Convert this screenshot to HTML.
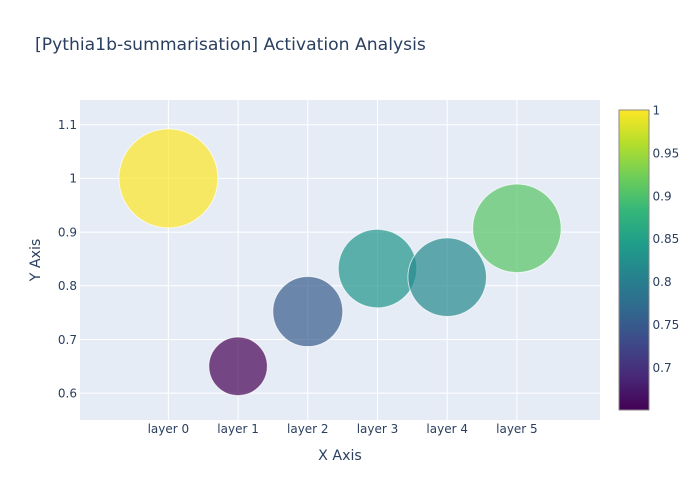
<!DOCTYPE html>
<html>
<head>
<meta charset="utf-8">
<style>
html,body{margin:0;padding:0;background:#fff;}
svg{display:block;}
text{font-family:"DejaVu Sans","Liberation Sans",sans-serif;fill:#2a3f5f;}
</style>
</head>
<body>
<svg id="chart" width="700" height="500" viewBox="0 0 700 500" xmlns="http://www.w3.org/2000/svg">
  <rect x="0" y="0" width="700" height="500" fill="#fff"/>
  <text x="35" y="50" font-size="17.2">[Pythia1b-summarisation] Activation Analysis</text>
  <rect x="80" y="100" width="520" height="320" fill="#e5ecf6"/>
  <g id="grid"></g>
  <g id="bubbles"></g>
  <g id="xticks"></g>
  <g id="yticks"></g>
  <text x="340" y="460" font-size="14.2" text-anchor="middle">X Axis</text>
  <text x="0" y="0" font-size="14.2" text-anchor="middle" transform="translate(40,260) rotate(-90)">Y Axis</text>
  <g id="colorbar"></g>
</svg>
<script>
const categories = ['layer 0', 'layer 1', 'layer 2', 'layer 3', 'layer 4', 'layer 5'];
const activations = [1.0, 0.65, 0.752, 0.832, 0.816, 0.907];
const bubbleSizes = [1.0, 0.35, 0.5, 0.63, 0.63, 0.8];
const yTicks = [0.6, 0.7, 0.8, 0.9, 1.0, 1.1];
const yTickLabels = ['0.6', '0.7', '0.8', '0.9', '1', '1.1'];
const colorTicks = [0.7, 0.75, 0.8, 0.85, 0.9, 0.95, 1.0];
const colorTickLabels = ['0.7', '0.75', '0.8', '0.85', '0.9', '0.95', '1'];
const viridis = ['#440154', '#482878', '#3e4989', '#31688e', '#26828e', '#1f9e89', '#35b779', '#6ece58', '#b5de2b', '#fde725'];

const NS = 'http://www.w3.org/2000/svg';
function mk(tag, attrs, parent) {
  const el = document.createElementNS(NS, tag);
  for (const k in attrs) el.setAttribute(k, attrs[k]);
  parent.appendChild(el);
  return el;
}
const plot = { left: 80, right: 600, top: 100, bottom: 420 };
const xDomain = [-1.268, 6.192];
const yDomain = [0.55, 1.146];
const cDomain = [0.651, 1.0];
const bar = { left: 619, right: 649, top: 110, bottom: 410 };
const maxRadius = 49.5;

function xScale(i) {
  return plot.left + (i - xDomain[0]) / (xDomain[1] - xDomain[0]) * (plot.right - plot.left);
}
function yScale(v) {
  return plot.bottom - (v - yDomain[0]) / (yDomain[1] - yDomain[0]) * (plot.bottom - plot.top);
}
function cbScale(v) {
  return bar.bottom - (v - cDomain[0]) / (cDomain[1] - cDomain[0]) * (bar.bottom - bar.top);
}
function rScale(s) {
  return maxRadius * Math.sqrt(s);
}
function hexToRgb(h) {
  return [parseInt(h.slice(1, 3), 16), parseInt(h.slice(3, 5), 16), parseInt(h.slice(5, 7), 16)];
}
function colorFor(v) {
  const t = Math.max(0, Math.min(1, (v - cDomain[0]) / (cDomain[1] - cDomain[0]))) * (viridis.length - 1);
  const i = Math.min(Math.floor(t), viridis.length - 2);
  const a = hexToRgb(viridis[i]);
  const b = hexToRgb(viridis[i + 1]);
  const f = t - i;
  return 'rgb(' + a.map((c, j) => Math.round(c + (b[j] - c) * f)).join(',') + ')';
}

const grid = document.getElementById('grid');
yTicks.forEach((v) => {
  const line = mk('line', { x1: plot.left, x2: plot.right, y1: yScale(v), y2: yScale(v), stroke: '#fff', 'stroke-width': 1 }, grid);
  
  
});
categories.forEach((c, i) => {
  const line = mk('line', { x1: xScale(i), x2: xScale(i), y1: plot.top, y2: plot.bottom, stroke: '#fff', 'stroke-width': 1 }, grid);
  
  
});

const bubbles = document.getElementById('bubbles');
categories.forEach((c, i) => {
  const dot = mk('circle', {
    cx: xScale(i), cy: yScale(activations[i]), r: rScale(bubbleSizes[i]),
    fill: colorFor(activations[i]), 'fill-opacity': 0.7,
    stroke: '#fff', 'stroke-opacity': 0.7, 'stroke-width': 1
  }, bubbles);
  
  
});

const xticks = document.getElementById('xticks');
categories.forEach((c, i) => {
  const t = mk('text', { x: xScale(i), y: 433, 'font-size': 12, 'text-anchor': 'middle' }, xticks);
  t.textContent = c;
  
  
});

const yticks = document.getElementById('yticks');
yTicks.forEach((v, i) => {
  const t = mk('text', { x: 77, y: yScale(v) + 4.3, 'font-size': 12, 'text-anchor': 'end' }, yticks);
  t.textContent = yTickLabels[i];
  
  
});

const cb = document.getElementById('colorbar');
const defs = mk('defs', {}, cb);
const grad = mk('linearGradient', { id: 'viridis-gradient', x1: 0, y1: 1, x2: 0, y2: 0 }, defs);
viridis.forEach((col, i) => {
  mk('stop', { offset: i / (viridis.length - 1), 'stop-color': col }, grad);
});
const barRect = mk('rect', {
  x: bar.left, y: bar.top, width: bar.right - bar.left, height: bar.bottom - bar.top,
  fill: 'url(#viridis-gradient)', stroke: '#888', 'stroke-width': 1
}, cb);


colorTicks.forEach((v, i) => {
  const t = mk('text', { x: 652.5, y: cbScale(v) + 4.3, 'font-size': 12 }, cb);
  t.textContent = colorTickLabels[i];
  
  
});
</script>
</body>
</html>
